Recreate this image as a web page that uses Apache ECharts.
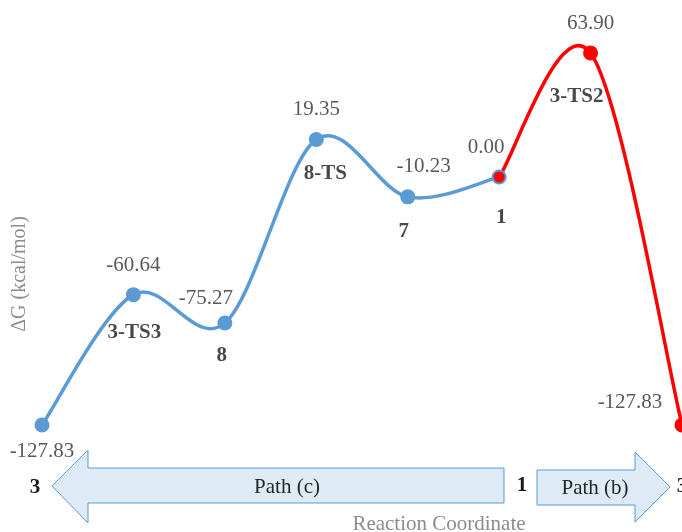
<!DOCTYPE html>
<html>
<head>
<meta charset="utf-8">
<script src="https://cdn.jsdelivr.net/npm/echarts@6/dist/echarts.min.js"></script>
<style>
html,body{margin:0;padding:0;background:#fff;}
#chart{width:682px;height:532px;}
</style>
</head>
<body>
<div id="chart"></div>
<script>
// Path (c): 3 -> 3-TS3 -> 8 -> 8-TS -> 7 -> 1
const pathCNames = ['3', '3-TS3', '8', '8-TS', '7', '1'];
const pathCValues = [-127.83, -60.64, -75.27, 19.35, -10.23, 0.00];
const pathCSteps = [0, 1, 2, 3, 4, 5];
// Path (b): 1 -> 3-TS2 -> 3
const pathBNames = ['1', '3-TS2', '3'];
const pathBValues = [0.00, 63.90, -127.83];
const pathBSteps = [5, 6, 7];
// texts
const yTitle = 'ΔG (kcal/mol)';
const xTitle = 'Reaction Coordinate';
const arrowTexts = ['Path (c)', 'Path (b)'];
const endNames = ['3', '1', '3'];

// label placement (offsets only)
const valueOffsetsC = [[0, 26], [0, -29], [-19, -25], [0, -30], [16, -30], [-13, -30]];
const valueOffsetsB = [null, [0, -30], [-52, -23]];
const nameOffsetsC = [null, [1, 38], [-3, 33], [9, 34], [-4, 35], [2, 41]];
const nameOffsetsB = [null, [-14, 44], null];

const BLUE = '#5B9BD5';
const RED = '#FF0000';
const SERIF = '"Liberation Serif", "Times New Roman", serif';
const FS = 21;

function valueLabel(off) {
  return {
    show: !!off, position: 'inside', offset: off || [0, 0],
    formatter: p => p.value[1].toFixed(2),
    fontFamily: SERIF, fontSize: FS, color: '#595959',
    align: 'center', verticalAlign: 'middle'
  };
}
function nameLabel(off, name) {
  return {
    show: !!off, position: 'inside', offset: off || [0, 0],
    formatter: name,
    fontFamily: SERIF, fontSize: FS, fontWeight: 'bold', color: '#1a1a1a',
    align: 'center', verticalAlign: 'middle'
  };
}

const blueData = pathCSteps.map((x, i) => ({ value: [x, pathCValues[i]], label: valueLabel(valueOffsetsC[i]) }));
const redData = pathBSteps.map((x, i) => ({
  value: [x, pathBValues[i]],
  symbolSize: i === 0 ? 11 : 15,
  label: valueLabel(valueOffsetsB[i])
}));
const blueNames = pathCSteps.map((x, i) => ({ value: [x, pathCValues[i]], label: nameLabel(nameOffsetsC[i], pathCNames[i]) }));
const redNames = pathBSteps.map((x, i) => ({ value: [x, pathBValues[i]], label: nameLabel(nameOffsetsB[i], pathBNames[i]) }));

// Smooth (spreadsheet-style cardinal spline) curve drawn segment by segment
function splineRenderer(steps, values, color) {
  return function (params, api) {
    const i = params.dataIndex;
    const n = steps.length;
    if (i >= n - 1) return null;
    const P = k => api.coord([steps[Math.max(0, Math.min(n - 1, k))], values[Math.max(0, Math.min(n - 1, k))]]);
    const p0 = P(i - 1), p1 = P(i), p2 = P(i + 1), p3 = P(i + 2);
    return {
      type: 'bezierCurve',
      shape: {
        x1: p1[0], y1: p1[1], x2: p2[0], y2: p2[1],
        cpx1: p1[0] + (p2[0] - p0[0]) / 6, cpy1: p1[1] + (p2[1] - p0[1]) / 6,
        cpx2: p2[0] - (p3[0] - p1[0]) / 6, cpy2: p2[1] - (p3[1] - p1[1]) / 6
      },
      style: { stroke: color, lineWidth: 3.5, fill: null, lineCap: 'round' },
      silent: true
    };
  };
}

const chart = echarts.init(document.getElementById('chart'), null, { renderer: 'canvas' });

const textBase = { fontFamily: SERIF, fontSize: FS, textAlign: 'center', textVerticalAlign: 'middle' };

chart.setOption({
  animation: false,
  backgroundColor: '#ffffff',
  grid: { left: 42, right: 0, top: 21.8, bottom: 83.4, containLabel: false },
  xAxis: {
    type: 'value', min: 0, max: 7, interval: 1,
    axisLine: { show: false }, axisTick: { show: false }, axisLabel: { show: false }, splitLine: { show: false }
  },
  yAxis: {
    type: 'value', min: -140, max: 80, interval: 20,
    axisLine: { show: false }, axisTick: { show: false }, axisLabel: { show: false }, splitLine: { show: false }
  },
  series: [
    {
      type: 'custom', name: 'Path (c) curve', z: 2, clip: false,
      data: pathCSteps.map((x, i) => [x, pathCValues[i]]),
      encode: { x: 0, y: 1 },
      renderItem: splineRenderer(pathCSteps, pathCValues, BLUE)
    },
    {
      type: 'custom', name: 'Path (b) curve', z: 3, clip: false,
      data: pathBSteps.map((x, i) => [x, pathBValues[i]]),
      encode: { x: 0, y: 1 },
      renderItem: splineRenderer(pathBSteps, pathBValues, RED)
    },
    {
      type: 'line', name: 'Path (c)', data: blueData, clip: false,
      symbol: 'circle', symbolSize: 15, z: 4,
      lineStyle: { width: 0, opacity: 0 }, itemStyle: { color: BLUE }
    },
    {
      type: 'line', name: 'Path (b)', data: redData, clip: false,
      symbol: 'circle', z: 5,
      lineStyle: { width: 0, opacity: 0 }, itemStyle: { color: RED }
    },
    {
      type: 'scatter', data: blueNames, symbolSize: 1, silent: true, z: 6,
      itemStyle: { color: 'rgba(0,0,0,0)' }
    },
    {
      type: 'scatter', data: redNames, symbolSize: 1, silent: true, z: 6,
      itemStyle: { color: 'rgba(0,0,0,0)' }
    }
  ],
  graphic: [
    {
      type: 'polygon', z: 1,
      shape: { points: [[52, 486], [88, 450], [88, 468], [504, 468], [504, 503], [88, 503], [88, 523]] },
      style: { fill: '#DEEBF7', stroke: BLUE, lineWidth: 1 }
    },
    {
      type: 'polygon', z: 1,
      shape: { points: [[537, 470], [635, 470], [635, 452], [670, 487], [635, 522], [635, 505], [537, 505]] },
      style: { fill: '#DEEBF7', stroke: BLUE, lineWidth: 1 }
    },
    { type: 'text', x: 287, y: 487, z: 5, style: Object.assign({ text: arrowTexts[0], fill: '#262626' }, textBase) },
    { type: 'text', x: 595, y: 488, z: 5, style: Object.assign({ text: arrowTexts[1], fill: '#262626' }, textBase) },
    { type: 'text', x: 35, y: 488, z: 5, style: Object.assign({ text: endNames[0], fill: '#1a1a1a', fontWeight: 'bold' }, textBase) },
    { type: 'text', x: 522, y: 486, z: 5, style: Object.assign({ text: endNames[1], fill: '#1a1a1a', fontWeight: 'bold' }, textBase) },
    { type: 'text', x: 682, y: 487, z: 5, style: Object.assign({ text: endNames[2], fill: '#1a1a1a', fontWeight: 'bold' }, textBase) },
    { type: 'text', x: 439, y: 524, z: 5, style: Object.assign({ text: xTitle, fill: '#8c8c8c' }, textBase) },
    { type: 'text', x: 20, y: 274, rotation: Math.PI / 2, z: 5, style: Object.assign({ text: yTitle, fill: '#8c8c8c' }, textBase, { fontSize: 20 }) }
  ]
});
</script>
</body>
</html>
